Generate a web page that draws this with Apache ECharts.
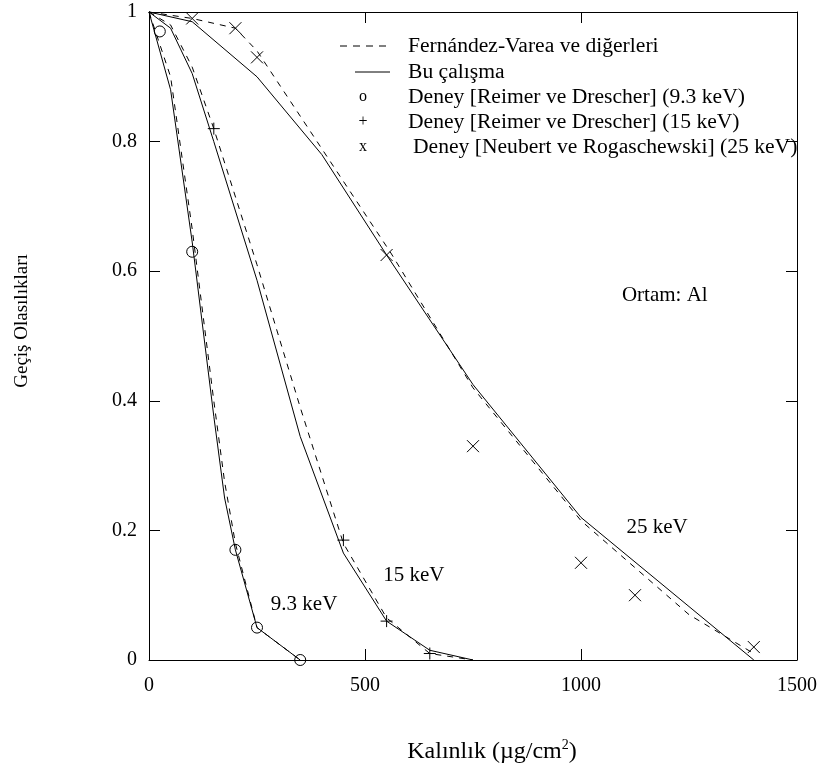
<!DOCTYPE html>
<html>
<head>
<meta charset="utf-8">
<script src="https://cdn.jsdelivr.net/npm/echarts@6/dist/echarts.min.js"></script>
<style>
html,body{margin:0;padding:0;background:#fff;}
#main{width:825px;height:776px;}
</style>
</head>
<body>
<div id="main"></div>
<script>
// ---- Tick labels ----
const xTickValues = [0, 500, 1000, 1500];
const xTickLabels = ['0', '500', '1000', '1500'];
const yTickValues = [0, 0.2, 0.4, 0.6, 0.8, 1];
const yTickLabels = ['0', '0.2', '0.4', '0.6', '0.8', '1'];

// ---- Bu çalışma (solid) ----
const solid93X = [0, 50, 100, 150, 175, 200, 250, 350];
const solid93Y = [1, 0.88, 0.645, 0.376, 0.25, 0.17, 0.05, 0];
const solid15X = [0, 50, 100, 150, 250, 350, 450, 550, 650, 750];
const solid15Y = [1, 0.975, 0.905, 0.80, 0.586, 0.345, 0.165, 0.06, 0.015, 0];
const solid25X = [0, 100, 250, 400, 550, 750, 1000, 1400];
const solid25Y = [1, 0.985, 0.90, 0.78, 0.625, 0.425, 0.22, 0];

// ---- Fernández-Varea ve diğerleri (dashed) ----
const dash93X = [0, 50, 100, 150, 175, 200, 250, 350];
const dash93Y = [1, 0.9, 0.665, 0.40, 0.275, 0.18, 0.05, 0];
const dash15X = [0, 50, 100, 150, 250, 350, 450, 550, 650, 750];
const dash15Y = [1, 0.98, 0.915, 0.82, 0.61, 0.39, 0.18, 0.065, 0.01, 0];
const dash25X = [0, 100, 200, 250, 560, 750, 1000, 1250, 1400];
const dash25Y = [1, 0.99, 0.975, 0.94, 0.628, 0.42, 0.215, 0.07, 0.01];

// ---- Deney (experimental) ----
const exp93X = [25, 100, 200, 250, 350];
const exp93Y = [0.97, 0.63, 0.17, 0.05, 0];
const exp15X = [150, 450, 550, 650];
const exp15Y = [0.82, 0.185, 0.06, 0.01];
const exp25X = [100, 200, 250, 550, 750, 1000, 1125, 1400];
const exp25Y = [0.99, 0.975, 0.93, 0.625, 0.33, 0.15, 0.1, 0.02];

// ---- Annotations ----
const noteTexts = ['9.3 keV', '15 keV', '25 keV', 'Ortam: Al'];
const noteX = [359, 613, 1176, 1194];
const noteY = [0.085, 0.13, 0.204, 0.563];

// ---- Legend ----
const legendTexts = [
  'Fernández-Varea ve diğerleri',
  'Bu çalışma',
  'Deney [Reimer ve Drescher] (9.3 keV)',
  'Deney [Reimer ve Drescher] (15 keV)',
  'Deney [Neubert ve Rogaschewski] (25 keV)'
];
const legendMarks = ['dash', 'solid', 'o', '+', 'x'];

const FONT = 'Liberation Serif';
const zip = (xs, ys) => xs.map((x, i) => [x, ys[i]]);

const lineSeries = (name, xs, ys, dashed) => ({
  name, type: 'line', data: zip(xs, ys), showSymbol: false, symbol: 'none',
  smooth: false, silent: true, clip: false,
  lineStyle: { color: '#000', width: 1, type: dashed ? [6, 6] : 'solid' }
});
const PLUS = 'path://M0,6L12,6M6,0L6,12';
const CROSS = 'path://M0,0L12,12M12,0L0,12';
const markSeries = (name, xs, ys, symbol, size) => ({
  name, type: 'scatter', data: zip(xs, ys), symbol, symbolSize: size, clip: false,
  itemStyle: { color: 'none', borderColor: '#000', borderWidth: 1, opacity: 1 }
});

const chart = echarts.init(document.getElementById('main'), null, { renderer: 'canvas' });

const legendGraphics = [];
const rowY = [46, 72, 97, 122, 147];
legendMarks.forEach((m, i) => {
  const y = rowY[i];
  if (m === 'dash') {
    legendGraphics.push({ type: 'line', shape: { x1: 340, y1: y, x2: 386, y2: y },
      style: { stroke: '#000', lineWidth: 1, lineDash: [7, 6] } });
  } else if (m === 'solid') {
    legendGraphics.push({ type: 'line', shape: { x1: 355, y1: y, x2: 390, y2: y },
      style: { stroke: '#000', lineWidth: 1 } });
  } else {
    legendGraphics.push({ type: 'text', x: 363, y: y,
      style: { text: m, font: '16px "' + FONT + '"', fill: '#000', align: 'center', verticalAlign: 'middle' } });
  }
  legendGraphics.push({ type: 'text', x: i === 4 ? 413 : 408, y: y,
    style: { text: legendTexts[i], font: '21.6px "' + FONT + '"', fill: '#000', align: 'left', verticalAlign: 'middle' } });
});

const axisCommon = {
  type: 'value',
  axisLine: { show: true, onZero: false, lineStyle: { color: '#000', width: 1 } },
  axisTick: { show: true, inside: true, length: 11, lineStyle: { color: '#000' } },
  splitLine: { show: false }
};

chart.setOption({
  animation: false,
  backgroundColor: '#fff',
  grid: { left: 149, top: 12, width: 648, height: 648, containLabel: false },
  xAxis: [
    Object.assign({}, axisCommon, {
      min: 0, max: 1500, interval: 500, position: 'bottom',
      axisLabel: { fontSize: 20, fontFamily: FONT, color: '#000', margin: 16,
        formatter: v => xTickLabels[xTickValues.indexOf(v)] }
    }),
    Object.assign({}, axisCommon, {
      min: 0, max: 1500, interval: 500, position: 'top', axisLabel: { show: false }
    })
  ],
  yAxis: [
    Object.assign({}, axisCommon, {
      min: 0, max: 1, interval: 0.2, position: 'left',
      axisLabel: { fontSize: 20, fontFamily: FONT, color: '#000', margin: 12,
        formatter: v => { const i = yTickValues.findIndex(t => Math.abs(t - v) < 1e-9); return yTickLabels[i]; } }
    }),
    Object.assign({}, axisCommon, {
      min: 0, max: 1, interval: 0.2, position: 'right', axisLabel: { show: false }
    })
  ],
  series: [
    lineSeries('Bu çalışma 9.3 keV', solid93X, solid93Y, false),
    lineSeries('Bu çalışma 15 keV', solid15X, solid15Y, false),
    lineSeries('Bu çalışma 25 keV', solid25X, solid25Y, false),
    lineSeries('Fernández-Varea 9.3 keV', dash93X, dash93Y, true),
    lineSeries('Fernández-Varea 15 keV', dash15X, dash15Y, true),
    lineSeries('Fernández-Varea 25 keV', dash25X, dash25Y, true),
    markSeries('Deney 9.3 keV', exp93X, exp93Y, 'circle', 11),
    markSeries('Deney 15 keV', exp15X, exp15Y, PLUS, 12),
    markSeries('Deney 25 keV', exp25X, exp25Y, CROSS, 12),
    {
      name: 'notes', type: 'scatter', symbolSize: 0, silent: true, clip: false,
      itemStyle: { opacity: 1 },
      data: noteX.map((x, i) => ({ value: [x, noteY[i]], name: noteTexts[i] })),
      label: { show: true, position: 'inside', formatter: p => p.name,
        fontSize: 21, fontFamily: FONT, color: '#000', opacity: 1 }
    }
  ],
  graphic: legendGraphics.concat([
    { type: 'text', x: 492, y: 752,
      style: { text: '{a|Kalınlık (µg/cm}{s|2}{a|)}', align: 'center', verticalAlign: 'middle',
        rich: { a: { fontSize: 24, fontFamily: FONT, fill: '#000' },
                s: { fontSize: 14, fontFamily: FONT, fill: '#000', padding: [0, 0, 13, 0] } } } },
    { type: 'text', x: 22, y: 321, rotation: Math.PI / 2,
      style: { text: 'Geçiş Olasılıkları', font: '19px "' + FONT + '"', fill: '#000', align: 'center', verticalAlign: 'middle' } }
  ])
});
</script>
</body>
</html>
